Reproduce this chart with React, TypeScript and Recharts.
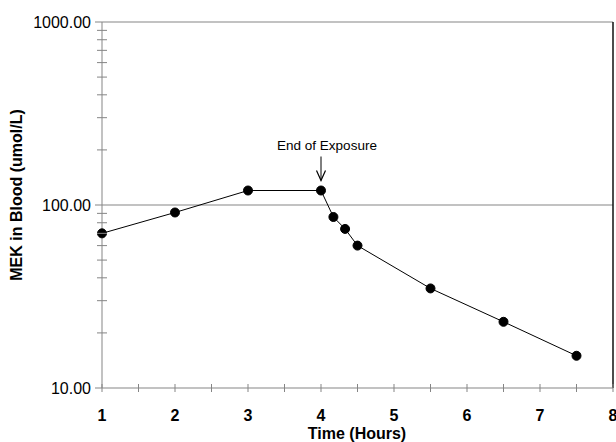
import React from 'react';
import { LineChart, Line, XAxis, YAxis, ReferenceLine, ReferenceDot, Label } from 'recharts';

const hours = [1, 2, 3, 4, 4.17, 4.33, 4.5, 5.5, 6.5, 7.5];
const mekBlood = [70, 91, 120, 120, 86, 74, 60, 35, 23, 15];

const xTicks = [1, 1.5, 2, 2.5, 3, 3.5, 4, 4.5, 5, 5.5, 6, 6.5, 7, 7.5, 8];
const yTicks = [
  10, 20, 30, 40, 50, 60, 70, 80, 90,
  100, 200, 300, 400, 500, 600, 700, 800, 900,
  1000,
];
const yMajor = [10, 100, 1000];

const exposureEnd = { hour: 4, value: 120, text: 'End of Exposure' };

const data = hours.map((h, i) => ({ hour: h, mek: mekBlood[i] }));

const FONT = '"Liberation Sans", Arial, sans-serif';
const AXIS = '#858585';

const XTick = (props: any) => {
  const { x, y, payload } = props;
  const v = payload.value;
  const whole = Number.isInteger(v);
  return (
    <g>
      <line x1={x} x2={x} y1={y - 4} y2={y + 4} stroke={AXIS} strokeWidth={1} />
      {whole && (
        <text x={x} y={y + 33} textAnchor="middle" fontFamily={FONT} fontSize={16} fontWeight="bold" fill="#000">
          {v}
        </text>
      )}
    </g>
  );
};

const YTick = (props: any) => {
  const { x, y, payload } = props;
  const v = payload.value;
  if (yMajor.includes(v)) {
    return (
      <g>
        <line x1={x - 7} x2={x} y1={y} y2={y} stroke={AXIS} strokeWidth={1} />
        <text x={x - 11} y={y} dy="0.36em" textAnchor="end" fontFamily={FONT} fontSize={16} fill="#000">
          {v.toFixed(2)}
        </text>
      </g>
    );
  }
  return <line x1={x - 5} x2={x + 5} y1={y} y2={y} stroke={AXIS} strokeWidth={1} />;
};

const ExposureMark = (props: any) => {
  const { cx, cy } = props;
  return (
    <g>
      <text x={cx + 6} y={cy - 41} textAnchor="middle" fontFamily={FONT} fontSize={13.5} fill="#000">
        {exposureEnd.text}
      </text>
      <line x1={cx} x2={cx} y1={cy - 34} y2={cy - 10} stroke="#000" strokeWidth={1} />
      <path d={`M${cx - 4.5},${cy - 20} L${cx},${cy - 10} L${cx + 4.5},${cy - 20}`} fill="none" stroke="#000" strokeWidth={1.2} />
    </g>
  );
};

export default function App() {
  return (
    <div style={{ position: 'absolute', left: 0, top: 0, background: '#fff' }}>
      <LineChart width={616} height={442} data={data} margin={{ top: 22, right: 3, left: 0, bottom: 0 }}>
        <XAxis
          type="number"
          dataKey="hour"
          domain={[1, 8]}
          ticks={xTicks}
          interval={0}
          height={54}
          tickSize={0}
          tickMargin={0}
          tickLine={false}
          axisLine={{ stroke: AXIS }}
          tick={<XTick />}
        >
          <Label
            content={() => (
              <text x={357} y={439} textAnchor="middle" fontFamily={FONT} fontSize={16} fontWeight="bold" fill="#000">
                Time (Hours)
              </text>
            )}
          />
        </XAxis>
        <YAxis
          type="number"
          scale="log"
          domain={[10, 1000]}
          ticks={yTicks}
          interval={0}
          width={102}
          tickSize={0}
          tickMargin={0}
          tickLine={false}
          axisLine={{ stroke: AXIS }}
          tick={<YTick />}
          allowDataOverflow
        >
          <Label
            content={() => (
              <text
                x={16}
                y={195}
                transform="rotate(-90, 16, 195)"
                textAnchor="middle"
                dominantBaseline="central"
                fontFamily={FONT}
                fontSize={16}
                fontWeight="bold"
                fill="#000"
              >
                MEK in Blood (umol/L)
              </text>
            )}
          />
        </YAxis>
        <ReferenceLine y={100} stroke={AXIS} strokeWidth={1} />
        <ReferenceLine y={1000} stroke={AXIS} strokeWidth={1} />
        <ReferenceLine x={8} stroke="#111" strokeWidth={1.5} />
        <Line
          type="linear"
          dataKey="mek"
          stroke="#000"
          strokeWidth={1}
          dot={{ r: 4.5, fill: '#000', stroke: '#000', strokeWidth: 1 }}
          isAnimationActive={false}
        />
        <ReferenceDot x={exposureEnd.hour} y={exposureEnd.value} r={0} shape={<ExposureMark />} />
      </LineChart>
    </div>
  );
}
